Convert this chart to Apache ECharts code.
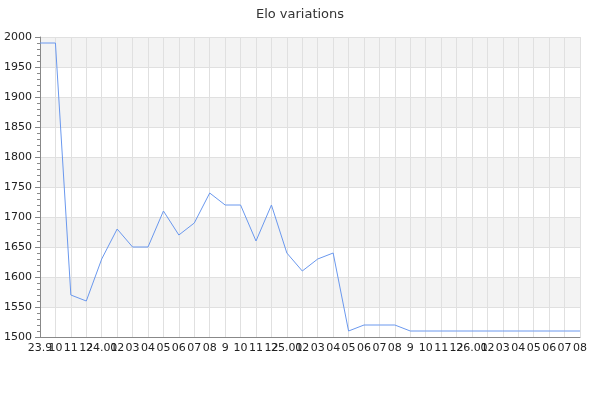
<!DOCTYPE html>
<html>
<head>
<meta charset="utf-8">
<script src="https://cdn.jsdelivr.net/npm/echarts@6/dist/echarts.min.js"></script>
<style>html,body{margin:0;padding:0;background:#fff}#c{width:600px;height:400px}</style>
</head>
<body>
<div id="c"></div>
<script>
var categories = ["23.9","10","11","12","24.01","02","03","04","05","06","07","08","9","10","11","12","25.01","02","03","04","05","06","07","08","9","10","11","12","26.01","02","03","04","05","06","07","08"];
var eloValues = [1990,1990,1570,1560,1630,1680,1650,1650,1710,1670,1690,1740,1720,1720,1660,1720,1640,1610,1630,1640,1510,1520,1520,1520,1510,1510,1510,1510,1510,1510,1510,1510,1510,1510,1510,1510];
var yTicks = {min: 1500, max: 2000, interval: 50};

var chart = echarts.init(document.getElementById('c'), null, {renderer: 'canvas'});
chart.setOption({
  animation: false,
  textStyle: {fontFamily: 'DejaVu Sans'},
  title: {
    text: 'Elo variations', left: 'center', top: 3,
    textStyle: {fontSize: 13, fontWeight: 'normal', color: '#333', fontFamily: 'DejaVu Sans'}
  },
  grid: {left: 40, right: 20, top: 37, bottom: 63, containLabel: false},
  xAxis: {
    type: 'category',
    data: categories,
    boundaryGap: false,
    axisLine: {show: true, lineStyle: {color: '#888', width: 1}},
    axisTick: {show: false},
    axisLabel: {interval: 0, color: '#222', fontSize: 11, margin: 6, hideOverlap: false},
    splitLine: {show: true, interval: 0, lineStyle: {color: '#e0e0e0', width: 1}}
  },
  yAxis: {
    type: 'value',
    min: yTicks.min, max: yTicks.max, interval: yTicks.interval,
    axisLine: {show: true, lineStyle: {color: '#888', width: 1}},
    axisTick: {show: true, length: 5, lineStyle: {color: '#888'}},
    minorTick: {show: true, splitNumber: 5, length: 3, lineStyle: {color: '#888'}},
    axisLabel: {color: '#222', fontSize: 11, margin: 8, formatter: function (v) { return String(v); }},
    splitLine: {show: true, lineStyle: {color: '#e0e0e0', width: 1}},
    splitArea: {show: true, areaStyle: {color: ['rgba(255,255,255,0)', '#f3f3f3']}}
  },
  series: [{
    type: 'line',
    data: eloValues,
    symbol: 'none',
    lineStyle: {color: '#6a98ee', width: 1},
    itemStyle: {color: '#6a98ee'}
  }]
});
</script>
</body>
</html>
